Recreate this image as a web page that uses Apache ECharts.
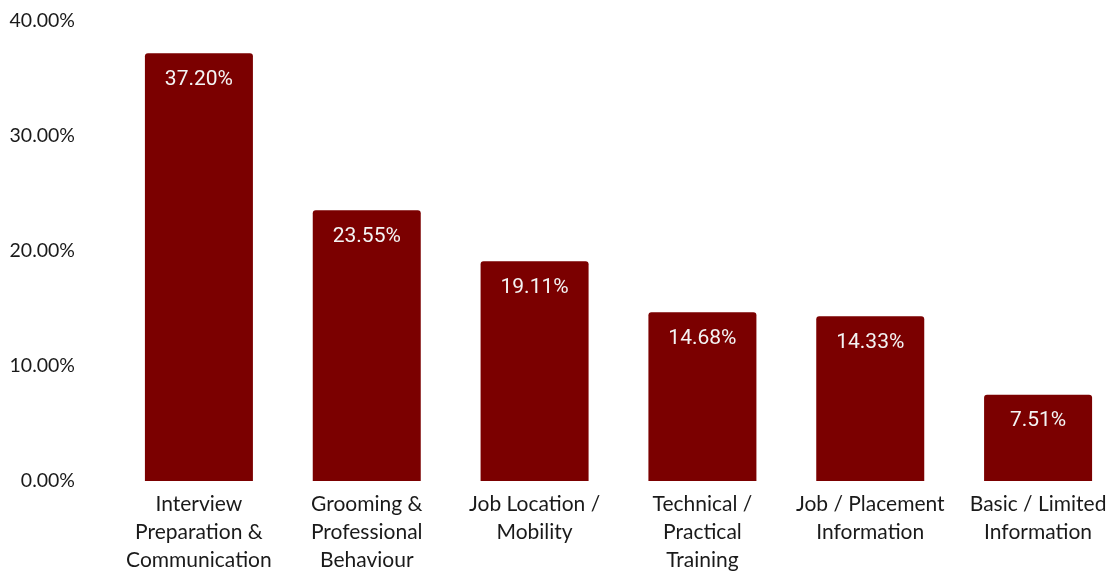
<!DOCTYPE html>
<html>
<head>
<meta charset="utf-8">
<script src="https://cdn.jsdelivr.net/npm/echarts@6/dist/echarts.min.js"></script>
<style>
  html, body { margin: 0; padding: 0; background: #ffffff; }
  #chart { width: 1109px; height: 572px; }
</style>
</head>
<body>
<div id="chart"></div>
<script>
// Categories (multi-line labels) and their shares in percent
const categories = [
  'Interview\nPreparation &\nCommunication',
  'Grooming &\nProfessional\nBehaviour',
  'Job Location /\nMobility',
  'Technical /\nPractical\nTraining',
  'Job / Placement\nInformation',
  'Basic / Limited\nInformation'
];
const shares = [37.20, 23.55, 19.11, 14.68, 14.33, 7.51];

const chart = echarts.init(document.getElementById('chart'), null, { renderer: 'canvas' });

chart.setOption({
  animation: false,
  backgroundColor: '#ffffff',
  grid: {
    left: 115, top: 21, width: 1007, height: 460,
    containLabel: false,
    outerBoundsMode: 'none'
  },
  xAxis: {
    type: 'category',
    data: categories,
    axisLine: { show: false },
    axisTick: { show: false },
    axisLabel: {
      interval: 0,
      margin: 9,
      color: '#1a1a1a',
      fontFamily: 'Lato',
      fontSize: 21,
      lineHeight: 28
    }
  },
  yAxis: {
    type: 'value',
    min: 0,
    max: 40,
    interval: 10,
    splitLine: { show: false },
    axisLine: { show: false },
    axisTick: { show: false },
    axisLabel: {
      margin: 40,
      color: '#1a1a1a',
      fontFamily: 'Lato',
      fontSize: 19.5,
      formatter: v => v.toFixed(2) + '%'
    }
  },
  series: [{
    type: 'bar',
    data: shares,
    barWidth: 108,
    itemStyle: { color: '#7b0000', borderRadius: [3, 3, 0, 0] },
    label: {
      show: true,
      position: 'insideTop',
      distance: 16,
      color: '#f4f4f4',
      fontFamily: 'Roboto',
      fontSize: 21,
      formatter: p => p.value.toFixed(2) + '%'
    }
  }]
});
</script>
</body>
</html>
